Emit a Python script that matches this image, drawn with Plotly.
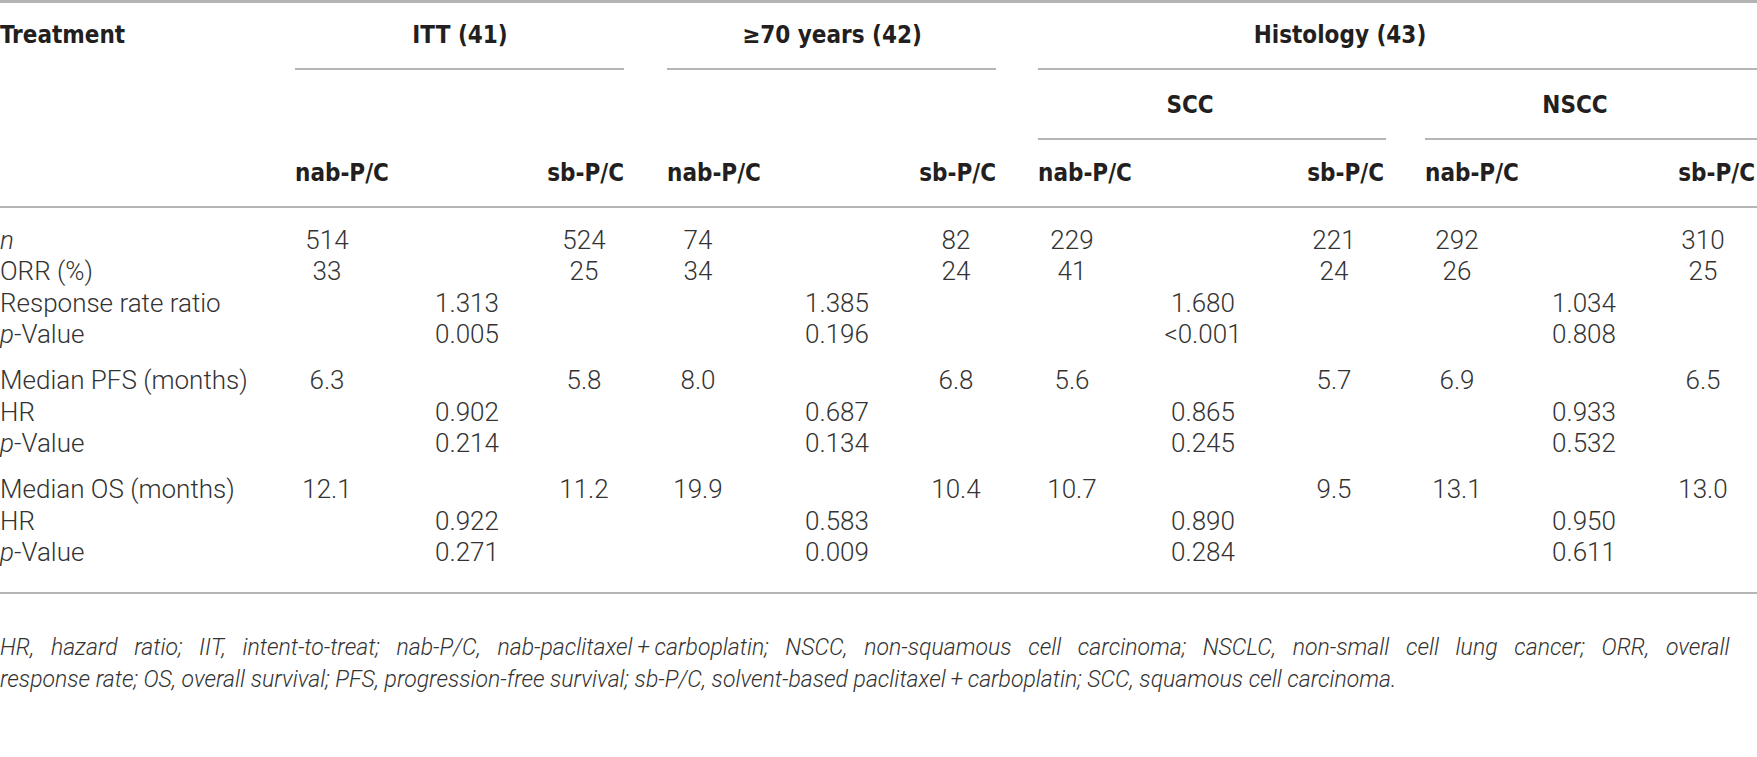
import plotly.graph_objects as go

# ---------------- data ----------------
group_titles = ["ITT (41)", "≥70 years (42)", "Histology (43)"]
histology_titles = ["SCC", "NSCC"]
arm_labels = ["nab-P/C", "sb-P/C"]
row_labels = ["<i>n</i>", "ORR (%)", "Response rate ratio", "<i>p</i>-Value",
              "Median PFS (months)", "HR", "<i>p</i>-Value",
              "Median OS (months)", "HR", "<i>p</i>-Value"]

# one entry per subgroup: ITT, >=70 years, SCC, NSCC
n_nab = [514, 74, 229, 292]
n_sb = [524, 82, 221, 310]
orr_nab = [33, 34, 41, 26]
orr_sb = [25, 24, 24, 25]
rr_ratio = [1.313, 1.385, 1.680, 1.034]
rr_p = ["0.005", "0.196", "&lt;0.001", "0.808"]
pfs_nab = [6.3, 8.0, 5.6, 6.9]
pfs_sb = [5.8, 6.8, 5.7, 6.5]
pfs_hr = [0.902, 0.687, 0.865, 0.933]
pfs_p = [0.214, 0.134, 0.245, 0.532]
os_nab = [12.1, 19.9, 10.7, 13.1]
os_sb = [11.2, 10.4, 9.5, 13.0]
os_hr = [0.922, 0.583, 0.890, 0.950]
os_p = [0.271, 0.009, 0.284, 0.611]

footnote_1 = ("HR, hazard ratio; IIT, intent-to-treat; nab-P/C, nab-paclitaxel\u2009+\u2009carboplatin; "
              "NSCC, non-squamous cell carcinoma; NSCLC, non-small cell lung cancer; ORR, overall")
footnote_2 = ("response rate; OS, overall survival; PFS, progression-free survival; sb-P/C, "
              "solvent-based paclitaxel\u2009+\u2009carboplatin; SCC, squamous cell carcinoma.")

# ---------------- layout constants ----------------
W, H = 1757, 757
spans = [(295, 624), (667, 996), (1038, 1384), (1425, 1755)]   # rule spans per subgroup
hist_span = (1038, 1757)
nab_x = [327, 698, 1072, 1457]
mid_x = [467, 837, 1203, 1584]
sb_x = [584, 956, 1334, 1703]
group_x = [460, 832, 1340]
hist_x = [1190, 1575]
row_y = [242, 273, 305, 336, 382, 414, 445, 491, 523, 554]
y_group, y_group_line, y_hist, y_hist_line, y_arm, y_head_line = 37, 69, 107, 139, 175, 207
y_bottom_line, y_foot = 593, [649, 681]

HEAD_FONT = dict(family="DejaVu Sans Condensed, Liberation Sans Narrow, sans-serif",
                 size=24, color="#231f20", weight="bold")
BODY_FONT = dict(family="Roboto, Liberation Sans, sans-serif", size=26, color="#333333", weight=300)
FOOT_FONT = dict(family="Roboto, Liberation Sans, sans-serif", size=23, color="#333333",
                 weight=300, style="italic")
LINE_COLOR = "#9c9c9c"

fig = go.Figure()


def text_trace(xs, ys, texts, font, pos):
    fig.add_trace(go.Scatter(x=xs, y=ys, text=texts, mode="text", textposition=pos,
                             textfont=font, hoverinfo="skip", showlegend=False, cliponaxis=False))


# header
text_trace([0], [y_group], ["Treatment"], HEAD_FONT, "middle right")
text_trace(group_x, [y_group] * 3, group_titles, HEAD_FONT, "middle center")
text_trace(hist_x, [y_hist] * 2, histology_titles, HEAD_FONT, "middle center")
for L, R in spans:
    text_trace([L], [y_arm], [arm_labels[0]], HEAD_FONT, "middle right")
    text_trace([R], [y_arm], [arm_labels[1]], HEAD_FONT, "middle left")

# row labels
text_trace([0] * len(row_labels), row_y, row_labels, BODY_FONT, "middle right")

# values
arm_rows = [row_y[0], row_y[1], row_y[4], row_y[7]]
mid_rows = [row_y[2], row_y[3], row_y[5], row_y[6], row_y[8], row_y[9]]
for i in range(4):
    text_trace([nab_x[i]] * 4, arm_rows,
               [f"{n_nab[i]}", f"{orr_nab[i]}", f"{pfs_nab[i]:.1f}", f"{os_nab[i]:.1f}"],
               BODY_FONT, "middle center")
    text_trace([sb_x[i]] * 4, arm_rows,
               [f"{n_sb[i]}", f"{orr_sb[i]}", f"{pfs_sb[i]:.1f}", f"{os_sb[i]:.1f}"],
               BODY_FONT, "middle center")
    text_trace([mid_x[i]] * 6, mid_rows,
               [f"{rr_ratio[i]:.3f}", rr_p[i], f"{pfs_hr[i]:.3f}", f"{pfs_p[i]:.3f}",
                f"{os_hr[i]:.3f}", f"{os_p[i]:.3f}"],
               BODY_FONT, "middle center")

# footnote (first line justified by widening the word gaps)
foot_1_just = footnote_1.replace(" ", "\u00a0" * 3)
text_trace([0, 0], y_foot, [foot_1_just, footnote_2], FOOT_FONT, "middle right")

# rules
shapes = [dict(type="line", x0=0, x1=W, y0=1.5, y1=1.5, line=dict(color="#b4b4b4", width=3))]
for L, R in spans[:2]:
    shapes.append(dict(type="line", x0=L, x1=R, y0=y_group_line, y1=y_group_line,
                       line=dict(color=LINE_COLOR, width=1.6)))
shapes.append(dict(type="line", x0=hist_span[0], x1=hist_span[1], y0=y_group_line, y1=y_group_line,
                   line=dict(color=LINE_COLOR, width=1.6)))
for L, R in spans[2:]:
    shapes.append(dict(type="line", x0=L, x1=min(R + 2, W), y0=y_hist_line, y1=y_hist_line,
                       line=dict(color=LINE_COLOR, width=1.6)))
for yy in (y_head_line, y_bottom_line):
    shapes.append(dict(type="line", x0=0, x1=W, y0=yy, y1=yy, line=dict(color=LINE_COLOR, width=1.6)))
for s in shapes:
    s.update(xref="x", yref="y", layer="below")

fig.update_layout(
    width=W, height=H, margin=dict(l=0, r=0, t=0, b=0),
    paper_bgcolor="white", plot_bgcolor="white", shapes=shapes,
    xaxis=dict(range=[0, W], visible=False, fixedrange=True),
    yaxis=dict(range=[H, 0], visible=False, fixedrange=True),
)

fig.write_html("out.html", config={"displayModeBar": False, "staticPlot": True},
               post_script="document.body.style.margin='0';document.body.style.overflow='hidden';")
